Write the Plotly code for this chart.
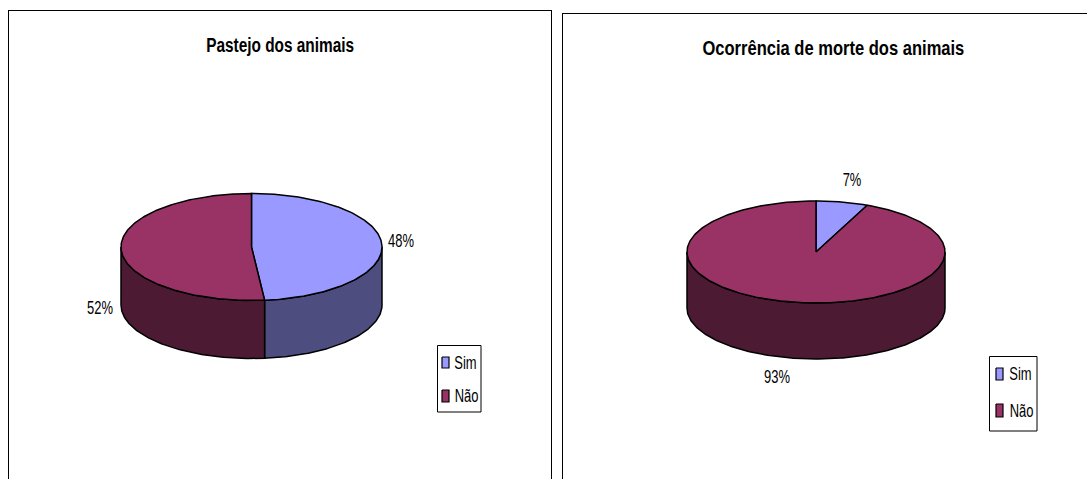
import numpy as np
import plotly.graph_objects as go

categories = ["Sim", "Não"]
pastejo_values = [48.4, 51.6]
pastejo_labels = ["48%", "52%"]
morte_values = [6.5, 93.5]
morte_labels = ["7%", "93%"]
titles = ["Pastejo dos animais", "Ocorrência de morte dos animais"]

TOP = ["#9999FF", "#993366"]
SIDE = ["#4D4D80", "#4D1A33"]
FONT = "Liberation Sans"
W, H = 1087, 479

panels = [
    dict(values=pastejo_values, labels=pastejo_labels, title=titles[0], ax="", frame=(8.5, 550.5, 10.5),
         cx=251.5, cy=247, rx=130.5, ry=53.5, depth=58,
         title_xy=(279.5, 44.5), label_xy=[(401, 241), (100, 308)],
         box=(437.5, 345.5, 481, 412), sw=(442, 449), rows=[(357, 368), (390, 402)], tx=[465, 466]),
    dict(values=morte_values, labels=morte_labels, title=titles[1], ax="2", frame=(562.5, 1087, 13.5),
         cx=816, cy=252, rx=129, ry=51, depth=56,
         title_xy=(833, 47.5), label_xy=[(852, 180), (777, 377)],
         box=(989.5, 356.5, 1037, 431), sw=(996, 1003), rows=[(368, 380), (404, 417)], tx=[1020.5, 1021.5]),
]

fig = go.Figure()
shapes, annotations = [], []
line = dict(color="black", width=1.5)


def arc(p, a0, a1):
    t = np.radians(np.linspace(a0, a1, max(int(abs(a1 - a0)), 2) + 1))
    return p["cx"] + p["rx"] * np.sin(t), p["cy"] - p["ry"] * np.cos(t)


for p in panels:
    xa, ya = "x" + p["ax"], "y" + p["ax"]
    shares = np.array(p["values"], dtype=float) / sum(p["values"])
    edges = np.concatenate([[0], np.cumsum(shares) * 360])

    def poly(xs, ys, fill, width=None):
        fig.add_trace(go.Scatter(x=xs, y=ys, mode="lines", fill="toself", fillcolor=fill,
                                 line=line if width is None else dict(color="black", width=width),
                                 xaxis=xa, yaxis=ya, showlegend=False, hoverinfo="skip"))

    for i in range(2):
        a0, a1 = max(edges[i], 90), min(edges[i + 1], 270)
        if a1 > a0:
            x, y = arc(p, a0, a1)
            poly(np.r_[x, x[::-1], x[0]], np.r_[y, y[::-1] + p["depth"], y[0]], SIDE[i])
    for i in range(2):
        x, y = arc(p, edges[i], edges[i + 1])
        poly(np.r_[p["cx"], x, p["cx"]], np.r_[p["cy"], y, p["cy"]], TOP[i])

    annotations.append(dict(x=p["title_xy"][0], y=p["title_xy"][1], xref=xa, yref=ya,
                            text="<b>" + p["title"] + "</b>", showarrow=False,
                            font=dict(family=FONT, size=20, color="black"),
                            xanchor="center", yanchor="middle"))
    for lab, (lx, ly) in zip(p["labels"], p["label_xy"]):
        annotations.append(dict(x=lx, y=ly, xref=xa, yref=ya, text=lab, showarrow=False,
                                font=dict(family=FONT, size=18, color="black"),
                                xanchor="center", yanchor="middle"))
    x0, y0, x1, y1 = p["box"]
    shapes.append(dict(type="rect", xref=xa, yref=ya, x0=x0, y0=y0, x1=x1, y1=y1,
                       line=dict(color="black", width=1), fillcolor="white", layer="below"))
    for i, (r0, r1) in enumerate(p["rows"]):
        s0, s1 = p["sw"]
        poly([s0, s1, s1, s0, s0], [r0, r0, r1, r1, r0], TOP[i], width=1.2)
        annotations.append(dict(x=p["tx"][i], y=(r0 + r1) / 2, xref=xa, yref=ya, text=categories[i],
                                showarrow=False, font=dict(family=FONT, size=18, color="black"),
                                xanchor="center", yanchor="middle"))

layout = dict(width=W, height=H, autosize=False, margin=dict(l=0, r=0, t=0, b=0),
              paper_bgcolor="white", plot_bgcolor="white", showlegend=False,
              shapes=shapes, annotations=annotations)
for p in panels:
    x0, x1, top = p["frame"]
    a = dict(showgrid=False, zeroline=False, ticks="", showticklabels=False, showline=True,
             linecolor="black", linewidth=1)
    layout["xaxis" + p["ax"]] = dict(a, domain=[x0 / W, min(x1 / W, 1)], range=[x0, x1], side="top",
                                     anchor="y" + p["ax"], mirror=False, fixedrange=True)
    layout["yaxis" + p["ax"]] = dict(a, domain=[0, 1 - top / H], range=[H, top], anchor="x" + p["ax"],
                                     mirror=(p["ax"] == ""), fixedrange=True)
fig.update_layout(**layout)

# The original uses a condensed face that is not installed: narrow the real text horizontally.
condense = """
document.body.style.margin='0';document.body.style.overflow='hidden';
function condense(){
  document.querySelectorAll('text.annotation-text').forEach(function(el){
    var isTitle = parseFloat(el.style.fontSize) >= 20;
    var k = isTitle ? (el.textContent.length > 25 ? 0.827 : 0.77) : 0.72;
    var b = el.getBBox(), c = b.x + b.width / 2;
    el.setAttribute('transform','translate('+c+',0) scale('+k+',1) translate('+(-c)+',0)');
  });
}
condense(); setTimeout(condense, 100);
"""
fig.write_html("out.html", config=dict(displayModeBar=False), post_script=condense)
